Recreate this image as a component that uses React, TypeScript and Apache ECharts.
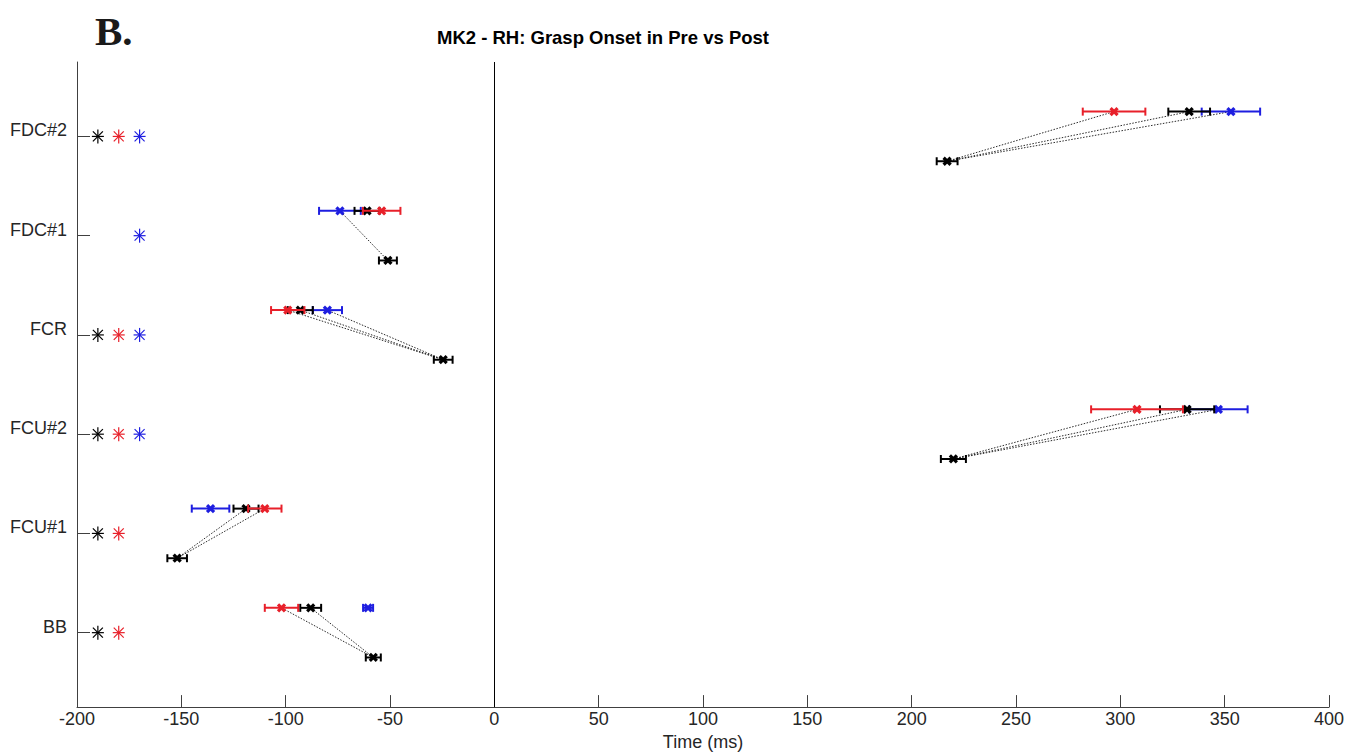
import React, { useEffect, useRef } from "react";
import * as echarts from "echarts";

// ---- data ----
const rows = ["BB", "FCU#1", "FCU#2", "FCR", "FDC#1", "FDC#2"];
const rowValues = [1, 2, 3, 4, 5, 6];
const rowOffset = 0.25;

// upper line (row + 0.25)
const redMean = [-102, -110, 308, -99, -54, 297];
const redErr = [8, 8, 22, 8, 9, 15];
const blackMean = [-88, -119, 332, -93, -61, 333];
const blackErr = [5, 6, 13, 6, 6, 10];
const blueMean = [-60.5, -136, 347, -80, -74, 353];
const blueErr = [2.4, 9, 14, 7, 10, 14];
// lower line (row - 0.25)
const lowerMean = [-58, -152, 220, -24.5, -51, 217];
const lowerErr = [3.6, 4.7, 6, 4.5, 4.3, 5];

// dotted links from lower black point to the upper points
const linkRed = [1, 1, 1, 1, 0, 1];
const linkBlack = [1, 1, 1, 1, 0, 1];
const linkBlue = [0, 0, 1, 1, 1, 1];

// asterisk markers
const starX = [-190, -180, -170];
const starBlack = [1, 1, 1, 1, 0, 1];
const starRed = [1, 1, 1, 1, 0, 1];
const starBlue = [0, 0, 1, 1, 1, 1];

const xMin = -200;
const xMax = 400;
const xInterval = 50;
const yMin = 0.25;
const yMax = 6.75;

const RED = "#e8202a";
const BLUE = "#1e1ee0";
const BLACK = "#000000";
const AXIS = "#404040";
const TEXT = "#262626";
const FONT = "'Liberation Sans', Arial, Helvetica, sans-serif";

function errRender(color: string) {
  return (params: any, api: any) => {
    const m = api.value(0);
    const y = api.value(1);
    const e = api.value(2);
    const p = api.coord([m, y]);
    const l = api.coord([m - e, y]);
    const r = api.coord([m + e, y]);
    const cap = 4;
    const s = 3.5;
    const st = { stroke: color, lineWidth: 2 };
    return {
      type: "group",
      children: [
        { type: "line", shape: { x1: l[0], y1: l[1], x2: r[0], y2: r[1] }, style: st },
        { type: "line", shape: { x1: l[0], y1: l[1] - cap, x2: l[0], y2: l[1] + cap }, style: st },
        { type: "line", shape: { x1: r[0], y1: r[1] - cap, x2: r[0], y2: r[1] + cap }, style: st },
        { type: "line", shape: { x1: p[0] - s, y1: p[1] - s, x2: p[0] + s, y2: p[1] + s }, style: { stroke: color, lineWidth: 3.2 } },
        { type: "line", shape: { x1: p[0] - s, y1: p[1] + s, x2: p[0] + s, y2: p[1] - s }, style: { stroke: color, lineWidth: 3.2 } },
      ],
    };
  };
}

const starColors = [BLACK, RED, BLUE];

function starRender(params: any, api: any) {
  const x = api.value(0);
  const y = api.value(1);
  const c = starColors[api.value(2)];
  const p = api.coord([x, y]);
  const h = 6;
  const v = 7;
  const d = 5;
  const st = { stroke: c, lineWidth: 1.2 };
  return {
    type: "group",
    children: [
      { type: "line", shape: { x1: p[0] - h, y1: p[1], x2: p[0] + h, y2: p[1] }, style: st },
      { type: "line", shape: { x1: p[0], y1: p[1] - v, x2: p[0], y2: p[1] + v }, style: st },
      { type: "line", shape: { x1: p[0] - d, y1: p[1] - d, x2: p[0] + d, y2: p[1] + d }, style: st },
      { type: "line", shape: { x1: p[0] - d, y1: p[1] + d, x2: p[0] + d, y2: p[1] - d }, style: st },
    ],
  };
}

function linkRender(params: any, api: any) {
  const a = api.coord([api.value(0), api.value(1)]);
  const b = api.coord([api.value(2), api.value(3)]);
  return {
    type: "line",
    shape: { x1: a[0], y1: a[1], x2: b[0], y2: b[1] },
    style: { stroke: "#2a2a2a", lineWidth: 1, lineDash: [1.5, 1.5] },
  };
}

export default function App() {
  const ref = useRef<HTMLDivElement>(null);

  useEffect(() => {
    if (!ref.current) return;
    const chart = echarts.init(ref.current, undefined, { renderer: "svg" });

    const upper = rowValues.map((r) => r + rowOffset);
    const lower = rowValues.map((r) => r - rowOffset);

    const redData = rowValues.map((_, i) => [redMean[i], upper[i], redErr[i]]);
    const blackData = rowValues.map((_, i) => [blackMean[i], upper[i], blackErr[i]]);
    const blueData = rowValues.map((_, i) => [blueMean[i], upper[i], blueErr[i]]);
    const lowerData = rowValues.map((_, i) => [lowerMean[i], lower[i], lowerErr[i]]);

    const links: number[][] = [];
    rowValues.forEach((_, i) => {
      if (linkRed[i]) links.push([lowerMean[i], lower[i], redMean[i], upper[i]]);
      if (linkBlack[i]) links.push([lowerMean[i], lower[i], blackMean[i], upper[i]]);
      if (linkBlue[i]) links.push([lowerMean[i], lower[i], blueMean[i], upper[i]]);
    });

    const stars: number[][] = [];
    rowValues.forEach((r, i) => {
      if (starBlack[i]) stars.push([starX[0], r, 0]);
      if (starRed[i]) stars.push([starX[1], r, 1]);
      if (starBlue[i]) stars.push([starX[2], r, 2]);
    });

    chart.setOption({
      animation: false,
      backgroundColor: "#ffffff",
      grid: { left: 77, width: 1252, top: 62, height: 650, containLabel: false },
      xAxis: {
        type: "value",
        min: xMin,
        max: xMax,
        interval: xInterval,
        name: "Time (ms)",
        nameLocation: "middle",
        nameGap: 25,
        nameTextStyle: { color: TEXT, fontSize: 18, fontFamily: FONT },
        axisLine: { show: true, onZero: false, lineStyle: { color: AXIS, width: 1 } },
        axisTick: { show: true, inside: true, length: 12, lineStyle: { color: AXIS } },
        axisLabel: { color: TEXT, fontSize: 18, fontFamily: FONT, margin: 3 },
        splitLine: { show: false },
      },
      yAxis: {
        type: "value",
        min: yMin,
        max: yMax,
        axisLine: { show: true, onZero: false, lineStyle: { color: AXIS, width: 1 } },
        axisTick: {
          show: true,
          inside: true,
          length: 13,
          customValues: rowValues,
          lineStyle: { color: AXIS },
        },
        axisLabel: {
          show: true,
          color: TEXT,
          fontSize: 18,
          fontFamily: FONT,
          margin: 10,
          customValues: rowValues,
          formatter: (v: number) => rows[Math.round(v) - 1] ?? "",
          verticalAlign: "bottom",
          lineHeight: 12,
        },
        splitLine: { show: false },
      },
      graphic: [
        {
          type: "text",
          x: 603,
          y: 37,
          style: {
            text: "MK2 - RH: Grasp Onset in Pre vs Post",
            font: "bold 18.5px 'Liberation Sans', Arial, sans-serif",
            fill: "#000",
            textAlign: "center",
            textVerticalAlign: "middle",
          },
        },
        {
          type: "text",
          x: 95,
          y: 31,
          style: {
            text: "B.",
            font: "bold 41px 'Liberation Serif', 'Times New Roman', serif",
            fill: "#1a1a1a",
            textAlign: "left",
            textVerticalAlign: "middle",
          },
        },
      ],
      series: [
        {
          type: "custom",
          name: "links",
          renderItem: linkRender,
          data: links,
          encode: { x: [0, 2], y: [1, 3] },
          silent: true,
          markLine: {
            silent: true,
            symbol: ["none", "none"],
            label: { show: false },
            lineStyle: { color: "#000", width: 1, type: "solid" },
            data: [{ xAxis: 0 }],
          },
        },
        { type: "custom", name: "stars", renderItem: starRender, data: stars, encode: { x: 0, y: 1 }, silent: true },
        { type: "custom", name: "lower", renderItem: errRender(BLACK), data: lowerData, encode: { x: 0, y: 1 }, silent: true },
        { type: "custom", name: "blue", renderItem: errRender(BLUE), data: blueData, encode: { x: 0, y: 1 }, silent: true },
        { type: "custom", name: "black", renderItem: errRender(BLACK), data: blackData, encode: { x: 0, y: 1 }, silent: true },
        { type: "custom", name: "red", renderItem: errRender(RED), data: redData, encode: { x: 0, y: 1 }, silent: true },
      ],
    });

    return () => chart.dispose();
  }, []);

  return (
    <div
      ref={ref}
      style={{ position: "fixed", left: 0, top: 0, width: 1347, height: 756, background: "#fff" }}
    />
  );
}
